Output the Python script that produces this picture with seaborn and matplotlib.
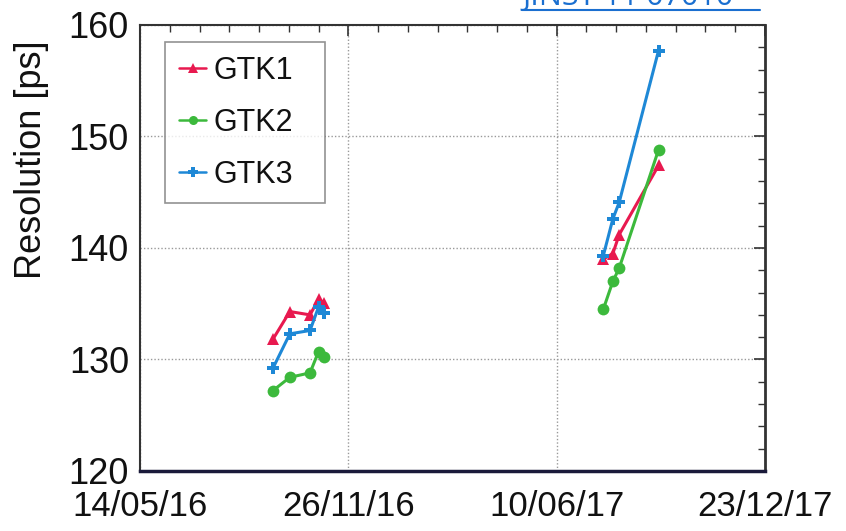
import numpy as np
import pandas as pd
import seaborn as sns
import matplotlib.pyplot as plt
import matplotlib.dates as mdates
from matplotlib.lines import Line2D

# data
dates_2016 = ['2016-09-16', '2016-10-02', '2016-10-21', '2016-10-29', '2016-11-03']
dates_2017 = ['2017-07-24', '2017-08-02', '2017-08-08', '2017-09-14']
gtk1_2016 = [131.8, 134.3, 134.0, 135.4, 135.1]
gtk2_2016 = [127.2, 128.4, 128.8, 130.7, 130.2]
gtk3_2016 = [129.2, 132.3, 132.6, 134.7, 134.2]
gtk1_2017 = [139.0, 139.5, 141.2, 147.4]
gtk2_2017 = [134.5, 137.0, 138.2, 148.8]
gtk3_2017 = [139.3, 142.6, 144.1, 157.7]
detectors = ['GTK1', 'GTK2', 'GTK3']
tick_dates = ['2016-05-14', '2016-11-26', '2017-06-10', '2017-12-23']

# long table
rows = []
for det, v16, v17 in zip(detectors, [gtk1_2016, gtk2_2016, gtk3_2016], [gtk1_2017, gtk2_2017, gtk3_2017]):
    for d, v in zip(dates_2016, v16):
        rows.append((det, '2016', pd.Timestamp(d), v))
    for d, v in zip(dates_2017, v17):
        rows.append((det, '2017', pd.Timestamp(d), v))
df = pd.DataFrame(rows, columns=['gtk', 'period', 'date', 'res'])

sns.set_style('white')
plt.rcParams['font.family'] = ['Liberation Sans', 'DejaVu Sans']

colors = {'GTK1': '#e8194f', 'GTK2': '#3cb93c', 'GTK3': '#1e88d6'}
markers = {'GTK1': '^', 'GTK2': 'o', 'GTK3': 'P'}

fig = plt.figure(figsize=(8.46, 5.31), dpi=100)
ax = fig.add_axes([0.1655, 0.113, 0.7385, 0.840])

sns.lineplot(data=df, x='date', y='res', hue='gtk', style='gtk', units='period',
             estimator=None, markers=markers, dashes=False, palette=colors,
             lw=2.2, markersize=8.5, markeredgewidth=0, ax=ax, legend=False)

ax.set_xlim(pd.Timestamp(tick_dates[0]), pd.Timestamp(tick_dates[-1]))
ax.set_ylim(120, 160)
ax.set_xticks([pd.Timestamp(t) for t in tick_dates])
ax.xaxis.set_major_formatter(mdates.DateFormatter('%d/%m/%y'))
ax.set_xticks(pd.date_range(tick_dates[0], tick_dates[-1], freq='28D'), minor=True)
ax.set_yticks([120, 130, 140, 150, 160])
ax.set_yticks(np.arange(120, 161, 2), minor=True)

ax.tick_params(which='both', direction='in', top=True, right=True, colors='#333333',
               labelcolor='#111111', labelsize=26)
ax.tick_params(which='major', length=8, width=1.2)
ax.tick_params(which='minor', length=5, width=1)
ax.tick_params(axis='x', pad=13.5, labelsize=25)
ax.tick_params(axis='y', pad=8)

ax.grid(True, which='major', ls=(0, (1, 1.5)), color='#999999', lw=1)
for s in ax.spines.values():
    s.set_color('#333333')
    s.set_linewidth(1.5)
ax.spines['bottom'].set_color('#1a1a3a')
ax.spines['bottom'].set_linewidth(2.5)
ax.spines['right'].set_linewidth(2)

ax.set_xlabel('')
ax.set_ylabel('Resolution [ps]', fontsize=26, color='#111111')
ax.yaxis.set_label_coords(-0.145, 0.697)

handles = [Line2D([], [], color=colors[d], marker=markers[d], lw=1.8, markersize=6.5,
                  markeredgewidth=0) for d in detectors]
leg = ax.legend(handles, detectors, loc='upper left', mode='expand',
                bbox_to_anchor=(0.04, 0.5, 0.256, 0.462),
                borderaxespad=0, fontsize=22, handlelength=0.9, handletextpad=0.25,
                labelspacing=0.72, borderpad=0.45, fancybox=False, frameon=True)
leg.get_frame().set_edgecolor('#777777')
leg.get_frame().set_linewidth(1.2)
for t in leg.get_texts():
    t.set_color('#111111')

# clipped link text above the chart
fig.text(522 / 846, 1 - 5 / 531, 'JINST 11 07010', color='#1a6fd0', fontsize=22,
         family='Open Sans', va='baseline', ha='left')
fig.add_artist(Line2D([522 / 846, 760 / 846], [1 - 9.5 / 531, 1 - 9.5 / 531],
                      color='#1a6fd0', lw=1.5, transform=fig.transFigure))

fig.savefig('out.png', dpi=100)
